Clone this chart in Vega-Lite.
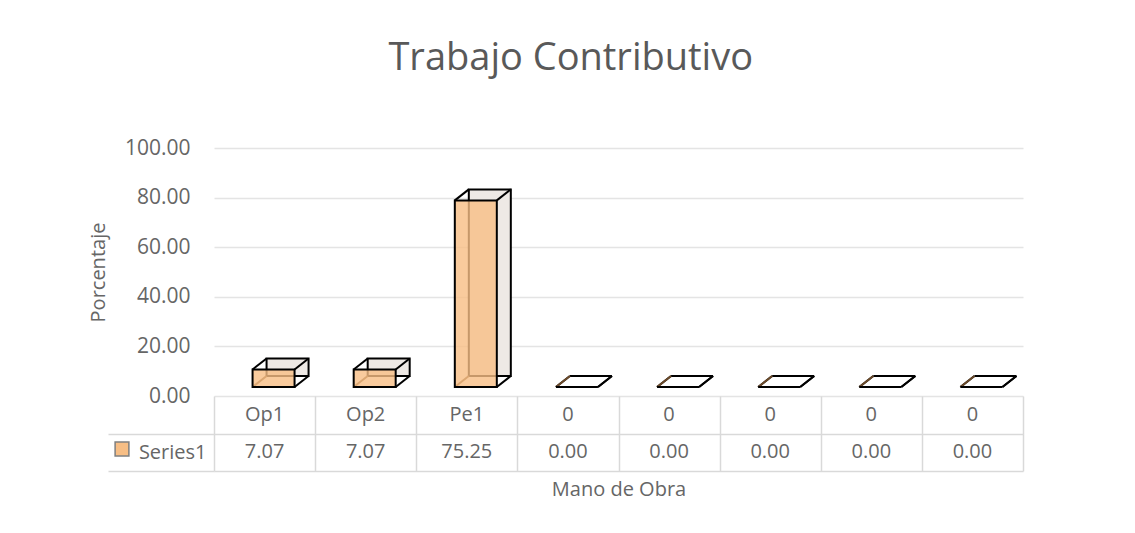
{
  "$schema": "https://vega.github.io/schema/vega-lite/v6.json",
  "padding": {"left": 88, "top": 40, "right": 5, "bottom": 5},
  "background": "white",
  "bounds": "flush",
  "title": {"text": "Trabajo Contributivo", "fontSize": 38, "font": "Open Sans", "fontWeight": "normal", "color": "#595959", "anchor": "middle", "offset": 59, "dx": 15},
  "data": {"values": [
    {"idx": 1, "cat": "Op1", "value": 7.07, "series": "Series1"},
    {"idx": 2, "cat": "Op2", "value": 7.07, "series": "Series1"},
    {"idx": 3, "cat": "Pe1", "value": 75.25, "series": "Series1"},
    {"idx": 4, "cat": "0", "value": 0, "series": "Series1"},
    {"idx": 5, "cat": "0", "value": 0, "series": "Series1"},
    {"idx": 6, "cat": "0", "value": 0, "series": "Series1"},
    {"idx": 7, "cat": "0", "value": 0, "series": "Series1"},
    {"idx": 8, "cat": "0", "value": 0, "series": "Series1"}
  ]},
  "spacing": 0,
  "vconcat": [
    {
      "width": 809,
      "height": 248,
      "encoding": {
        "x": {"field": "idx", "type": "ordinal", "scale": {"paddingInner": 0, "paddingOuter": 0}, "axis": null}
      },
      "layer": [
        {
          "mark": {"type": "bar", "size": 42, "xOffset": 23, "yOffset": -20, "fill": "#EEE9E5", "stroke": "black", "strokeWidth": 2},
          "encoding": {
            "y": {"field": "value", "type": "quantitative", "title": "Porcentaje", "scale": {"domain": [0, 100]},
              "axis": {"values": [0, 20, 40, 60, 80, 100], "format": ".2f", "domain": false, "ticks": false, "grid": true, "gridColor": "#E4E4E4", "gridWidth": 1.5, "labelPadding": 24, "labelFontSize": 21, "labelColor": "#666666", "titleFontSize": 20, "titleColor": "#666666", "titleFontWeight": "normal", "titlePadding": 16}}
          }
        },
        {
          "mark": {"type": "rule", "xOffset": -12, "x2Offset": 2, "yOffset": -9, "y2Offset": -20, "color": "black", "strokeWidth": 2},
          "encoding": {
            "y": {"field": "value", "type": "quantitative", "title": "Porcentaje"},
            "y2": {"field": "value"},
            "x2": {"field": "idx"}
          }
        },
        {
          "mark": {"type": "rule", "xOffset": 30, "x2Offset": 44, "yOffset": -9, "y2Offset": -20, "color": "black", "strokeWidth": 2},
          "encoding": {
            "y": {"field": "value", "type": "quantitative", "title": "Porcentaje"},
            "y2": {"field": "value"},
            "x2": {"field": "idx"}
          }
        },
        {
          "mark": {"type": "rule", "xOffset": 30, "x2Offset": 44, "yOffset": -9, "y2Offset": -20, "color": "black", "strokeWidth": 2},
          "encoding": {
            "y": {"datum": 0, "type": "quantitative"},
            "y2": {"datum": 0},
            "x2": {"field": "idx"}
          }
        },
        {
          "mark": {"type": "rule", "xOffset": -12, "x2Offset": 2, "yOffset": -9, "y2Offset": -20, "color": "#6b4a2a", "strokeWidth": 2},
          "encoding": {
            "y": {"datum": 0, "type": "quantitative"},
            "y2": {"datum": 0},
            "x2": {"field": "idx"}
          }
        },
        {
          "mark": {"type": "bar", "size": 42, "xOffset": 9, "yOffset": -9, "stroke": "black", "strokeWidth": 2, "fillOpacity": 0.8},
          "encoding": {
            "y": {"field": "value", "type": "quantitative", "title": "Porcentaje"},
            "fill": {"field": "series", "type": "nominal", "scale": {"range": ["#F7BE85"]},
              "legend": {"orient": "none", "legendX": -100, "legendY": 293, "title": null, "labelExpr": "''", "symbolType": "square", "symbolSize": 190, "symbolStrokeColor": "#7f7f7f", "symbolStrokeWidth": 1.5, "padding": 0, "symbolOpacity": 1}}
          }
        }
      ]
    },
    {
      "width": 809,
      "height": 75,
      "encoding": {
        "x": {"field": "idx", "type": "ordinal", "scale": {"paddingInner": 0, "paddingOuter": 0},
          "axis": {"title": "Mano de Obra", "labels": false, "ticks": false, "domain": false, "grid": true, "tickBand": "extent", "gridColor": "#D9D9D9", "gridWidth": 1.5, "titlePadding": 8, "titleFontSize": 20, "titleColor": "#666666", "titleFontWeight": "normal"}}
      },
      "layer": [
        {
          "mark": {"type": "text", "fontSize": 20, "color": "#666666"},
          "encoding": {
            "y": {"datum": "cat", "type": "nominal", "scale": {"type": "band", "domain": ["cat", "val"], "paddingInner": 0, "paddingOuter": 0},
              "axis": {"title": null, "values": ["val"], "labelExpr": "datum.value == 'val' ? 'Series1' : ''", "domain": false, "grid": true, "gridColor": "#D9D9D9", "gridWidth": 1.5, "tickBand": "extent", "ticks": true, "tickSize": 106, "tickColor": "#D9D9D9", "tickWidth": 1.5, "labelPadding": -98, "labelFontSize": 20, "labelColor": "#666666"}},
            "text": {"field": "cat"}
          }
        },
        {
          "mark": {"type": "text", "fontSize": 20, "color": "#666666"},
          "encoding": {
            "y": {"datum": "val", "type": "nominal"},
            "text": {"field": "value", "type": "quantitative", "format": ".2f"}
          }
        }
      ]
    }
  ],
  "config": {
    "view": {"stroke": null},
    "font": "Open Sans",
    "axis": {"labelFont": "Open Sans", "titleFont": "Open Sans"},
    "legend": {"labelFont": "Open Sans"}
  }
}
